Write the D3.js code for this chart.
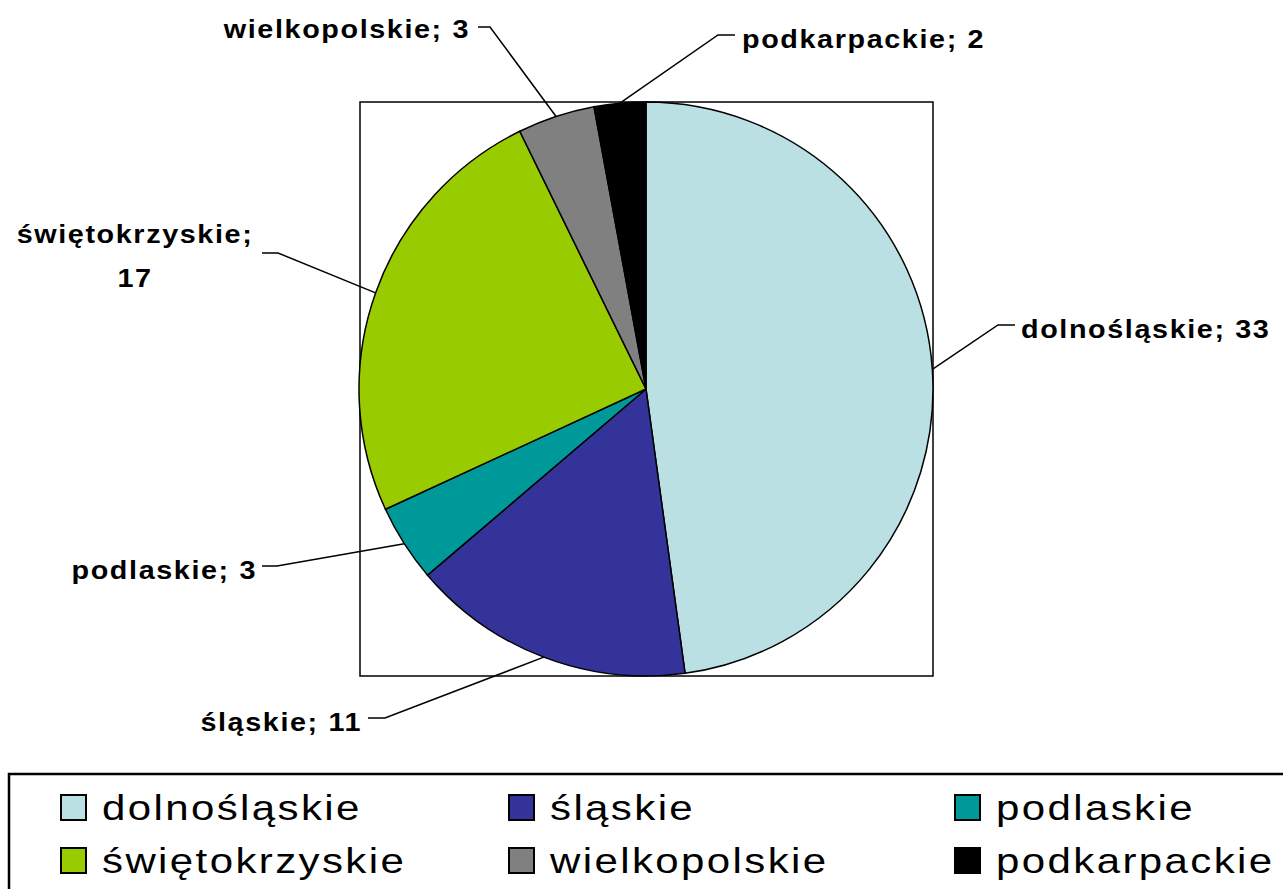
<!DOCTYPE html>
<meta charset="utf-8">
<style>
body{margin:0;background:white;}
text{font-family:'Liberation Sans',Arial,sans-serif;fill:black;}
</style>
<svg id='svg'></svg>
<script src="https://d3js.org/d3.v7.min.js"></script>
<script>
  // data
  var regions = ['dolnośląskie','śląskie','podlaskie','świętokrzyskie','wielkopolskie','podkarpackie']
  var counts = [33, 11, 3, 17, 3, 2]
  var colours = ['#BBE0E3','#333399','#009999','#99CC00','#808080','#000000']

  // label layout: elbow point, end of leader, text anchor point
  var labelLayout = [
    {elbow:[998,325], end:[1015,325], tx:1021, ty:338, anchor:'start'},
    {elbow:[385,718], end:[368,718], tx:362, ty:731, anchor:'end'},
    {elbow:[277,566], end:[262,566], tx:257, ty:579, anchor:'end'},
    {elbow:[278,253], end:[262,253], tx:135, ty:243, anchor:'middle', split:true},
    {elbow:[490,27], end:[478,27], tx:470, ty:38, anchor:'end'},
    {elbow:[718,35], end:[735,35], tx:742, ty:48, anchor:'start'}
  ]

  var width = 1283, height = 889
  var cx = 646, cy = 389, r = 287
  var stretch = 1.15

  var svg = d3.select('#svg').attr('width', width).attr('height', height)

  // plot area box
  svg.append('rect')
    .attr('x', 360).attr('y', 102).attr('width', 573).attr('height', 574)
    .attr('fill', 'none').attr('stroke', 'black').attr('stroke-width', 1.5)

  var pie = d3.pie().sort(null).value(d => d)
  var arcs = pie(counts)
  var arc = d3.arc().innerRadius(0).outerRadius(r)

  var g = svg.append('g').attr('transform', 'translate(' + cx + ',' + cy + ')')
  g.selectAll('path')
    .data(arcs)
    .enter().append('path')
    .attr('d', arc)
    .attr('fill', (d, i) => colours[i])
    .attr('stroke', 'black')
    .attr('stroke-width', 1.5)

  // leader lines + labels
  arcs.forEach((d, i) => {
    var a = (d.startAngle + d.endAngle) / 2
    var px = cx + r * Math.sin(a), py = cy - r * Math.cos(a)
    var L = labelLayout[i]
    svg.append('polyline')
      .attr('points', [[px, py], L.elbow, L.end].map(p => p.join(',')).join(' '))
      .attr('fill', 'none').attr('stroke', 'black').attr('stroke-width', 1.5)
    var t = svg.append('text')
      .attr('transform', 'translate(' + L.tx + ',' + L.ty + ') scale(' + stretch + ',1)')
      .attr('text-anchor', L.anchor)
      .style('font-size', '25px').style('font-weight', 'bold')
      .style('letter-spacing', '1.4px')
    if (L.split) {
      t.append('tspan').attr('x', 0).text(regions[i] + ';')
      t.append('tspan').attr('x', 0).attr('dy', 44).text(counts[i])
    } else {
      t.text(regions[i] + '; ' + counts[i])
    }
  })

  // legend
  svg.append('rect')
    .attr('x', 9).attr('y', 774).attr('width', 1290).attr('height', 130)
    .attr('fill', 'white').attr('stroke', 'black').attr('stroke-width', 2.5)

  var colX = [61, 509, 955], rowY = [807, 860]
  regions.forEach((name, i) => {
    var x = colX[i % 3], y = rowY[Math.floor(i / 3)]
    svg.append('rect')
      .attr('x', x).attr('y', y - 12).attr('width', 25).attr('height', 25)
      .attr('fill', colours[i]).attr('stroke', 'black').attr('stroke-width', 2)
    svg.append('text')
      .attr('transform', 'translate(' + (x + 41) + ',' + (y + 13) + ') scale(1.2,1)')
      .style('font-size', '35px')
      .style('letter-spacing', '2px')
      .text(name)
  })
</script>
